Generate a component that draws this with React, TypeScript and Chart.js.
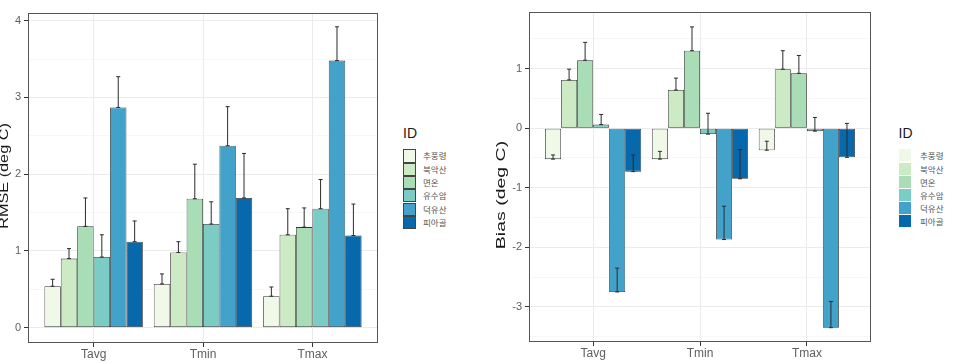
import React, { useEffect, useRef } from "react";
import { Chart, registerables } from "chart.js";

Chart.register(...registerables);

// Variables on the x axis and the six stations
const categories = ["Tavg", "Tmin", "Tmax"];
const stations = ["추풍령", "북악산", "면온", "유수암", "덕유산", "피아골"];
const stationColors = ["#F0F9E8", "#CCEBC5", "#A8DDB5", "#7BCCC4", "#43A2CA", "#0868AC"];

// RMSE per station (Tavg, Tmin, Tmax) and the error-bar lengths
const rmseChupungnyeong = [0.54, 0.57, 0.41];
const rmseBugaksan = [0.9, 0.98, 1.21];
const rmseMyeonon = [1.32, 1.68, 1.31];
const rmseYusuam = [0.92, 1.35, 1.55];
const rmseDeogyusan = [2.87, 2.37, 3.48];
const rmsePiagol = [1.12, 1.69, 1.2];

const rmseErrChupungnyeong = [0.09, 0.13, 0.12];
const rmseErrBugaksan = [0.13, 0.14, 0.34];
const rmseErrMyeonon = [0.37, 0.45, 0.25];
const rmseErrYusuam = [0.29, 0.29, 0.38];
const rmseErrDeogyusan = [0.4, 0.51, 0.44];
const rmseErrPiagol = [0.27, 0.58, 0.41];

// Bias per station (Tavg, Tmin, Tmax) and the error-bar lengths
const biasChupungnyeong = [-0.52, -0.52, -0.37];
const biasBugaksan = [0.81, 0.64, 0.99];
const biasMyeonon = [1.14, 1.3, 0.92];
const biasYusuam = [0.06, -0.1, -0.05];
const biasDeogyusan = [-2.75, -1.87, -3.35];
const biasPiagol = [-0.73, -0.85, -0.49];

const biasErrChupungnyeong = [0.07, 0.13, 0.15];
const biasErrBugaksan = [0.18, 0.2, 0.31];
const biasErrMyeonon = [0.3, 0.4, 0.3];
const biasErrYusuam = [0.17, 0.35, 0.23];
const biasErrDeogyusan = [0.4, 0.56, 0.44];
const biasErrPiagol = [0.28, 0.49, 0.57];

// Axis breaks
const rmseMajorTicks = [0, 1, 2, 3, 4];
const rmseMinorTicks = [0.5, 1.5, 2.5, 3.5];
const biasMajorTicks = [-3, -2, -1, 0, 1];
const biasMinorTicks = [-3.5, -2.5, -1.5, -0.5, 0.5, 1.5];

const rmseSeries = [rmseChupungnyeong, rmseBugaksan, rmseMyeonon, rmseYusuam, rmseDeogyusan, rmsePiagol];
const rmseErrors = [rmseErrChupungnyeong, rmseErrBugaksan, rmseErrMyeonon, rmseErrYusuam, rmseErrDeogyusan, rmseErrPiagol];
const biasSeries = [biasChupungnyeong, biasBugaksan, biasMyeonon, biasYusuam, biasDeogyusan, biasPiagol];
const biasErrors = [biasErrChupungnyeong, biasErrBugaksan, biasErrMyeonon, biasErrYusuam, biasErrDeogyusan, biasErrPiagol];

const FONT = "'Liberation Sans', Arial, sans-serif";
const KR_FONT = "'Noto Sans CJK KR', 'Noto Sans', sans-serif";

// Error bars, panel frame and the rotated y-axis title
const overlayPlugin = {
  id: "overlay",
  afterDatasetsDraw(chart: any, _args: any, opts: any) {
    const { ctx, chartArea } = chart;
    const yScale = chart.scales.y;
    ctx.save();
    ctx.strokeStyle = "#2b2b2b";
    ctx.lineWidth = 1;
    chart.data.datasets.forEach((ds: any, i: number) => {
      const meta = chart.getDatasetMeta(i);
      meta.data.forEach((bar: any, j: number) => {
        const v = ds.data[j].y;
        const e = ds.errors[j];
        const x = bar.x;
        const y0 = yScale.getPixelForValue(v);
        const y1 = yScale.getPixelForValue(v + e);
        ctx.beginPath();
        ctx.moveTo(x, y0);
        ctx.lineTo(x, y1);
        ctx.moveTo(x - 2, y1);
        ctx.lineTo(x + 2, y1);
        ctx.moveTo(x - 2, y0);
        ctx.lineTo(x + 2, y0);
        ctx.stroke();
      });
    });

    ctx.strokeStyle = "#555555";
    ctx.lineWidth = 1;
    ctx.strokeRect(
      Math.round(chartArea.left) + 0.5,
      Math.round(chartArea.top) + 0.5,
      Math.round(chartArea.right - chartArea.left) - 1,
      Math.round(chartArea.bottom - chartArea.top) - 1
    );

    ctx.fillStyle = "#1a1a1a";
    ctx.font = `${opts.titleSize}px ${FONT}`;
    ctx.textAlign = "center";
    ctx.textBaseline = "middle";
    ctx.translate(opts.titleX, opts.titleY);
    ctx.scale(1, opts.titleStretch);
    ctx.rotate(-Math.PI / 2);
    ctx.fillText(opts.title, 0, 0);
    ctx.restore();
  },
};

type PanelProps = {
  left: number;
  width: number;
  series: number[][];
  errors: number[][];
  yMin: number;
  yMax: number;
  majors: number[];
  minors: number[];
  title: string;
  titleX: number;
  titleY: number;
  titleStretch: number;
  padTop: number;
  padRight: number;
  yAxisWidth: number;
  xAxisHeight: number;
};

function Panel(p: PanelProps) {
  const ref = useRef<HTMLCanvasElement>(null);
  useEffect(() => {
    if (!ref.current) return;
    const allTicks = [...p.majors, ...p.minors].sort((a, b) => a - b);
    const isMajor = (v: number) => p.majors.some((m) => Math.abs(m - v) < 1e-9);
    const chart = new Chart(ref.current, {
      type: "bar",
      data: {
        datasets: stations.map((name, i) => ({
          label: name,
          data: p.series[i].map((v, j) => ({ x: j, y: v })),
          errors: p.errors[i],
          backgroundColor: stationColors[i],
          borderColor: "#333333",
          borderWidth: 0.8,
          borderSkipped: false,
          categoryPercentage: 0.9,
          barPercentage: 1,
        })) as any,
      },
      options: {
        animation: false,
        responsive: false,
        events: [],
        layout: { padding: { top: p.padTop, right: p.padRight, left: 0, bottom: 0 } },
        plugins: {
          legend: { display: false },
          tooltip: { enabled: false },
          title: { display: false },
          overlay: {
            title: p.title,
            titleX: p.titleX,
            titleY: p.titleY,
            titleStretch: p.titleStretch,
            titleSize: 13,
          },
        } as any,
        scales: {
          x: {
            type: "linear",
            min: -0.6,
            max: 2.6,
            offset: false,
            afterBuildTicks: (s: any) => {
              s.ticks = categories.map((_, i) => ({ value: i }));
            },
            afterFit: (s: any) => {
              s.height = p.xAxisHeight;
            },
            ticks: {
              autoSkip: false,
              maxRotation: 0,
              padding: 0,
              color: "#606060",
              font: { family: FONT, size: 12 },
              callback: (v: any) => categories[Math.round(Number(v))] ?? "",
            },
            grid: {
              offset: false,
              color: "#EBEBEB",
              lineWidth: 1,
              tickColor: "#333333",
              tickLength: 4,
            },
            border: { display: false },
          },
          y: {
            type: "linear",
            min: p.yMin,
            max: p.yMax,
            afterBuildTicks: (s: any) => {
              s.ticks = allTicks.map((v) => ({ value: v }));
            },
            afterFit: (s: any) => {
              s.width = p.yAxisWidth;
            },
            ticks: {
              autoSkip: false,
              padding: 3,
              color: "#606060",
              font: { family: FONT, size: 11 },
              callback: (v: any) => (isMajor(Number(v)) ? String(v) : ""),
            },
            grid: {
              color: (c: any) => (c.tick && isMajor(c.tick.value) ? "#EBEBEB" : "#F2F2F2"),
              lineWidth: (c: any) => (c.tick && isMajor(c.tick.value) ? 1 : 0.6),
              tickColor: (c: any) => (c.tick && isMajor(c.tick.value) ? "#333333" : "rgba(0,0,0,0)"),
              tickLength: 4,
            },
            border: { display: false },
          },
        },
      },
      plugins: [overlayPlugin],
    });
    return () => chart.destroy();
  }, []);

  return (
    <canvas
      ref={ref}
      width={p.width}
      height={363}
      style={{ position: "absolute", left: p.left, top: 0, width: p.width, height: 363 }}
    />
  );
}

function Legend(props: { left: number; keyWidth: number; keyHeight: number; gap: number; outlined: boolean; labelLeft: number }) {
  const { left, keyWidth, keyHeight, gap, outlined, labelLeft } = props;
  return (
    <div>
      <div
        style={{
          position: "absolute",
          left: left,
          top: 126,
          fontFamily: FONT,
          fontSize: 14,
          lineHeight: "14px",
          color: "#1a1a1a",
        }}
      >
        ID
      </div>
      {stations.map((name, i) => (
        <React.Fragment key={name}>
          <div
            style={{
              position: "absolute",
              left: left,
              top: 149.3 + i * (keyHeight + gap),
              width: keyWidth,
              height: keyHeight,
              boxSizing: "border-box",
              background: stationColors[i],
              border: outlined ? "0.6px solid #444" : "none",
            }}
          />
          <div
            style={{
              position: "absolute",
              left: labelLeft,
              top: 149.3 + i * (keyHeight + gap),
              height: keyHeight,
              lineHeight: `${keyHeight}px`,
              fontFamily: KR_FONT,
              fontSize: 8.5,
              color: "#555555",
              whiteSpace: "nowrap",
            }}
          >
            {name}
          </div>
        </React.Fragment>
      ))}
    </div>
  );
}

export default function App() {
  return (
    <div
      style={{
        position: "absolute",
        left: 0,
        top: 0,
        width: 960,
        height: 363,
        background: "#ffffff",
        overflow: "hidden",
      }}
    >
      <Panel
        left={0}
        width={390}
        series={rmseSeries}
        errors={rmseErrors}
        yMin={-0.2}
        yMax={4.1}
        majors={rmseMajorTicks}
        minors={rmseMinorTicks}
        title="RMSE (deg C)"
        titleX={4}
        titleY={176}
        titleStretch={1.25}
        padTop={13}
        padRight={12}
        yAxisWidth={28}
        xAxisHeight={20}
      />
      <Legend left={403} keyWidth={13} keyHeight={13.3} gap={0} outlined={true} labelLeft={423} />
      <Panel
        left={480}
        width={400}
        series={biasSeries}
        errors={biasErrors}
        yMin={-3.59}
        yMax={1.95}
        majors={biasMajorTicks}
        minors={biasMinorTicks}
        title="Bias (deg C)"
        titleX={21}
        titleY={195}
        titleStretch={1.5}
        padTop={12}
        padRight={9}
        yAxisWidth={49}
        xAxisHeight={21}
      />
      <Legend left={898.5} keyWidth={12.5} keyHeight={12.2} gap={1} outlined={false} labelLeft={920} />
    </div>
  );
}
